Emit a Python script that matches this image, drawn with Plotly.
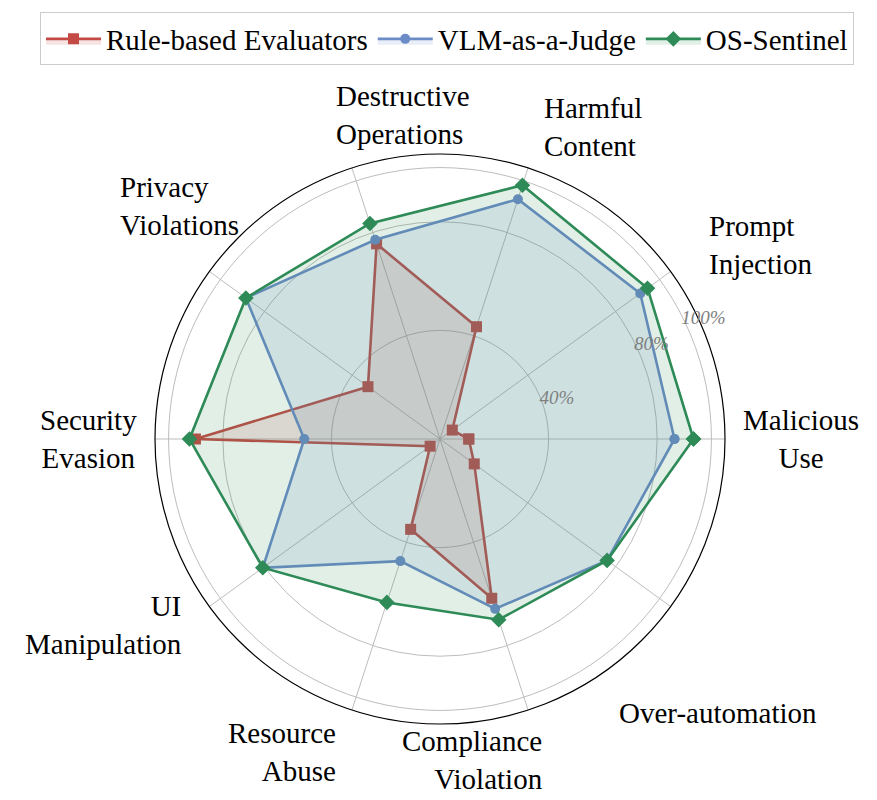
import math
import plotly.graph_objects as go

categories = ["Malicious Use", "Prompt Injection", "Harmful Content",
              "Destructive Operations", "Privacy Violations", "Security Evasion",
              "UI Manipulation", "Resource Abuse", "Compliance Violation",
              "Over-automation"]
category_labels = ["Malicious<br>Use", "Prompt<br>Injection", "Harmful<br>Content",
                   "Destructive<br>Operations", "Privacy<br>Violations", "Security<br>Evasion",
                   "UI<br>Manipulation", "Resource<br>Abuse", "Compliance<br>Violation",
                   "Over-automation"]

rule_based = [10.6, 5.6, 43.5, 75.6, 32.8, 90.1, 4.5, 35.0, 61.7, 15.6]
vlm_judge = [86.4, 91.2, 92.9, 77.2, 88.4, 50.0, 80.7, 47.3, 65.8, 76.1]
os_sentinel = [93.4, 94.5, 98.3, 83.5, 88.4, 92.3, 80.7, 63.3, 70.0, 76.1]

series_names = ["Rule-based Evaluators", "VLM-as-a-Judge", "OS-Sentinel"]
radial_ticks = [40, 80, 100]
radial_ticktext = ["40%", "80%", "100%"]

# label placement (layout/style only): radial distance in axis units and anchoring
label_r = [132.5, 121.3, 121.0, 125.6, 146.1, 129.2, 116.4, 121.1, 124.4, 171.8]
label_anchor = ["center", "left", "left", "left", "left",
                "center", "right", "right", "right", "right"]

colors = ["#C44A45", "#6C8CC7", "#2E8B57"]
fills = ["rgba(196,74,69,0.15)", "rgba(108,140,199,0.15)", "rgba(46,139,87,0.14)"]
symbols = ["square", "circle", "diamond"]
sizes = [11, 10, 12]

FONT = "Liberation Serif"
W, H = 877, 800
ML, MR, MT, MB = 5, 5, 144, 84
PW, PH = W - ML - MR, H - MT - MB
RMAX = 105
CX, CY, RAD = 432, 430, 286          # polar centre / radius in figure pixels
K = RAD / RMAX
RLABEL_ANGLE = 29.5

fig = go.Figure()
for name, vals, c, fc, sym, sz in zip(series_names, [rule_based, vlm_judge, os_sentinel],
                                     colors, fills, symbols, sizes):
    fig.add_trace(go.Scatterpolar(
        r=vals + vals[:1],
        theta=categories + categories[:1],
        name=name,
        mode="lines+markers",
        fill="toself",
        fillcolor=fc,
        line=dict(color=c, width=2.6),
        marker=dict(symbol=sym, size=sz, color=c),
    ))

# category labels outside the circle (annotations)
n = len(categories)
annotations = []
for i, (lab, rr, anc) in enumerate(zip(category_labels, label_r, label_anchor)):
    ang = math.radians(360.0 * i / n)
    fx = CX + rr * K * math.cos(ang)
    fy = CY - rr * K * math.sin(ang)
    annotations.append(dict(
        text=lab, x=(fx - ML) / PW, y=(H - MB - fy) / PH,
        xref="paper", yref="paper", xanchor=anc, yanchor="middle", align=anc,
        showarrow=False, font=dict(family=FONT, size=29, color="black"),
    ))

fig.update_layout(
    width=W, height=H,
    paper_bgcolor="white",
    margin=dict(l=ML, r=MR, t=MT, b=MB),
    font=dict(family=FONT, size=28, color="black"),
    annotations=annotations,
    polar=dict(
        domain=dict(x=[(CX - RAD - ML) / PW, (CX + RAD - ML) / PW], y=[0, 1]),
        bgcolor="white",
        angularaxis=dict(
            rotation=0, direction="counterclockwise",
            showline=True, linecolor="black", linewidth=1.2,
            gridcolor="#bdbdbd", gridwidth=1,
            showticklabels=False, ticks="",
        ),
        radialaxis=dict(
            range=[0, RMAX], angle=RLABEL_ANGLE, side="clockwise", tickangle=RLABEL_ANGLE,
            tickvals=radial_ticks, ticktext=radial_ticktext,
            showline=False, ticks="",
            gridcolor="#bdbdbd", gridwidth=1,
            tickfont=dict(family=FONT, size=19, color="#808080", style="italic"),
        ),
    ),
    legend=dict(
        orientation="h", x=(439 - ML) / PW, xanchor="center", y=1 + (MT - 2) / PH,
        yanchor="top",
        bordercolor="#cccccc", borderwidth=1, bgcolor="white",
        font=dict(family=FONT, size=29),
        itemwidth=55,
    ),
)

fig.write_html("out.html")
